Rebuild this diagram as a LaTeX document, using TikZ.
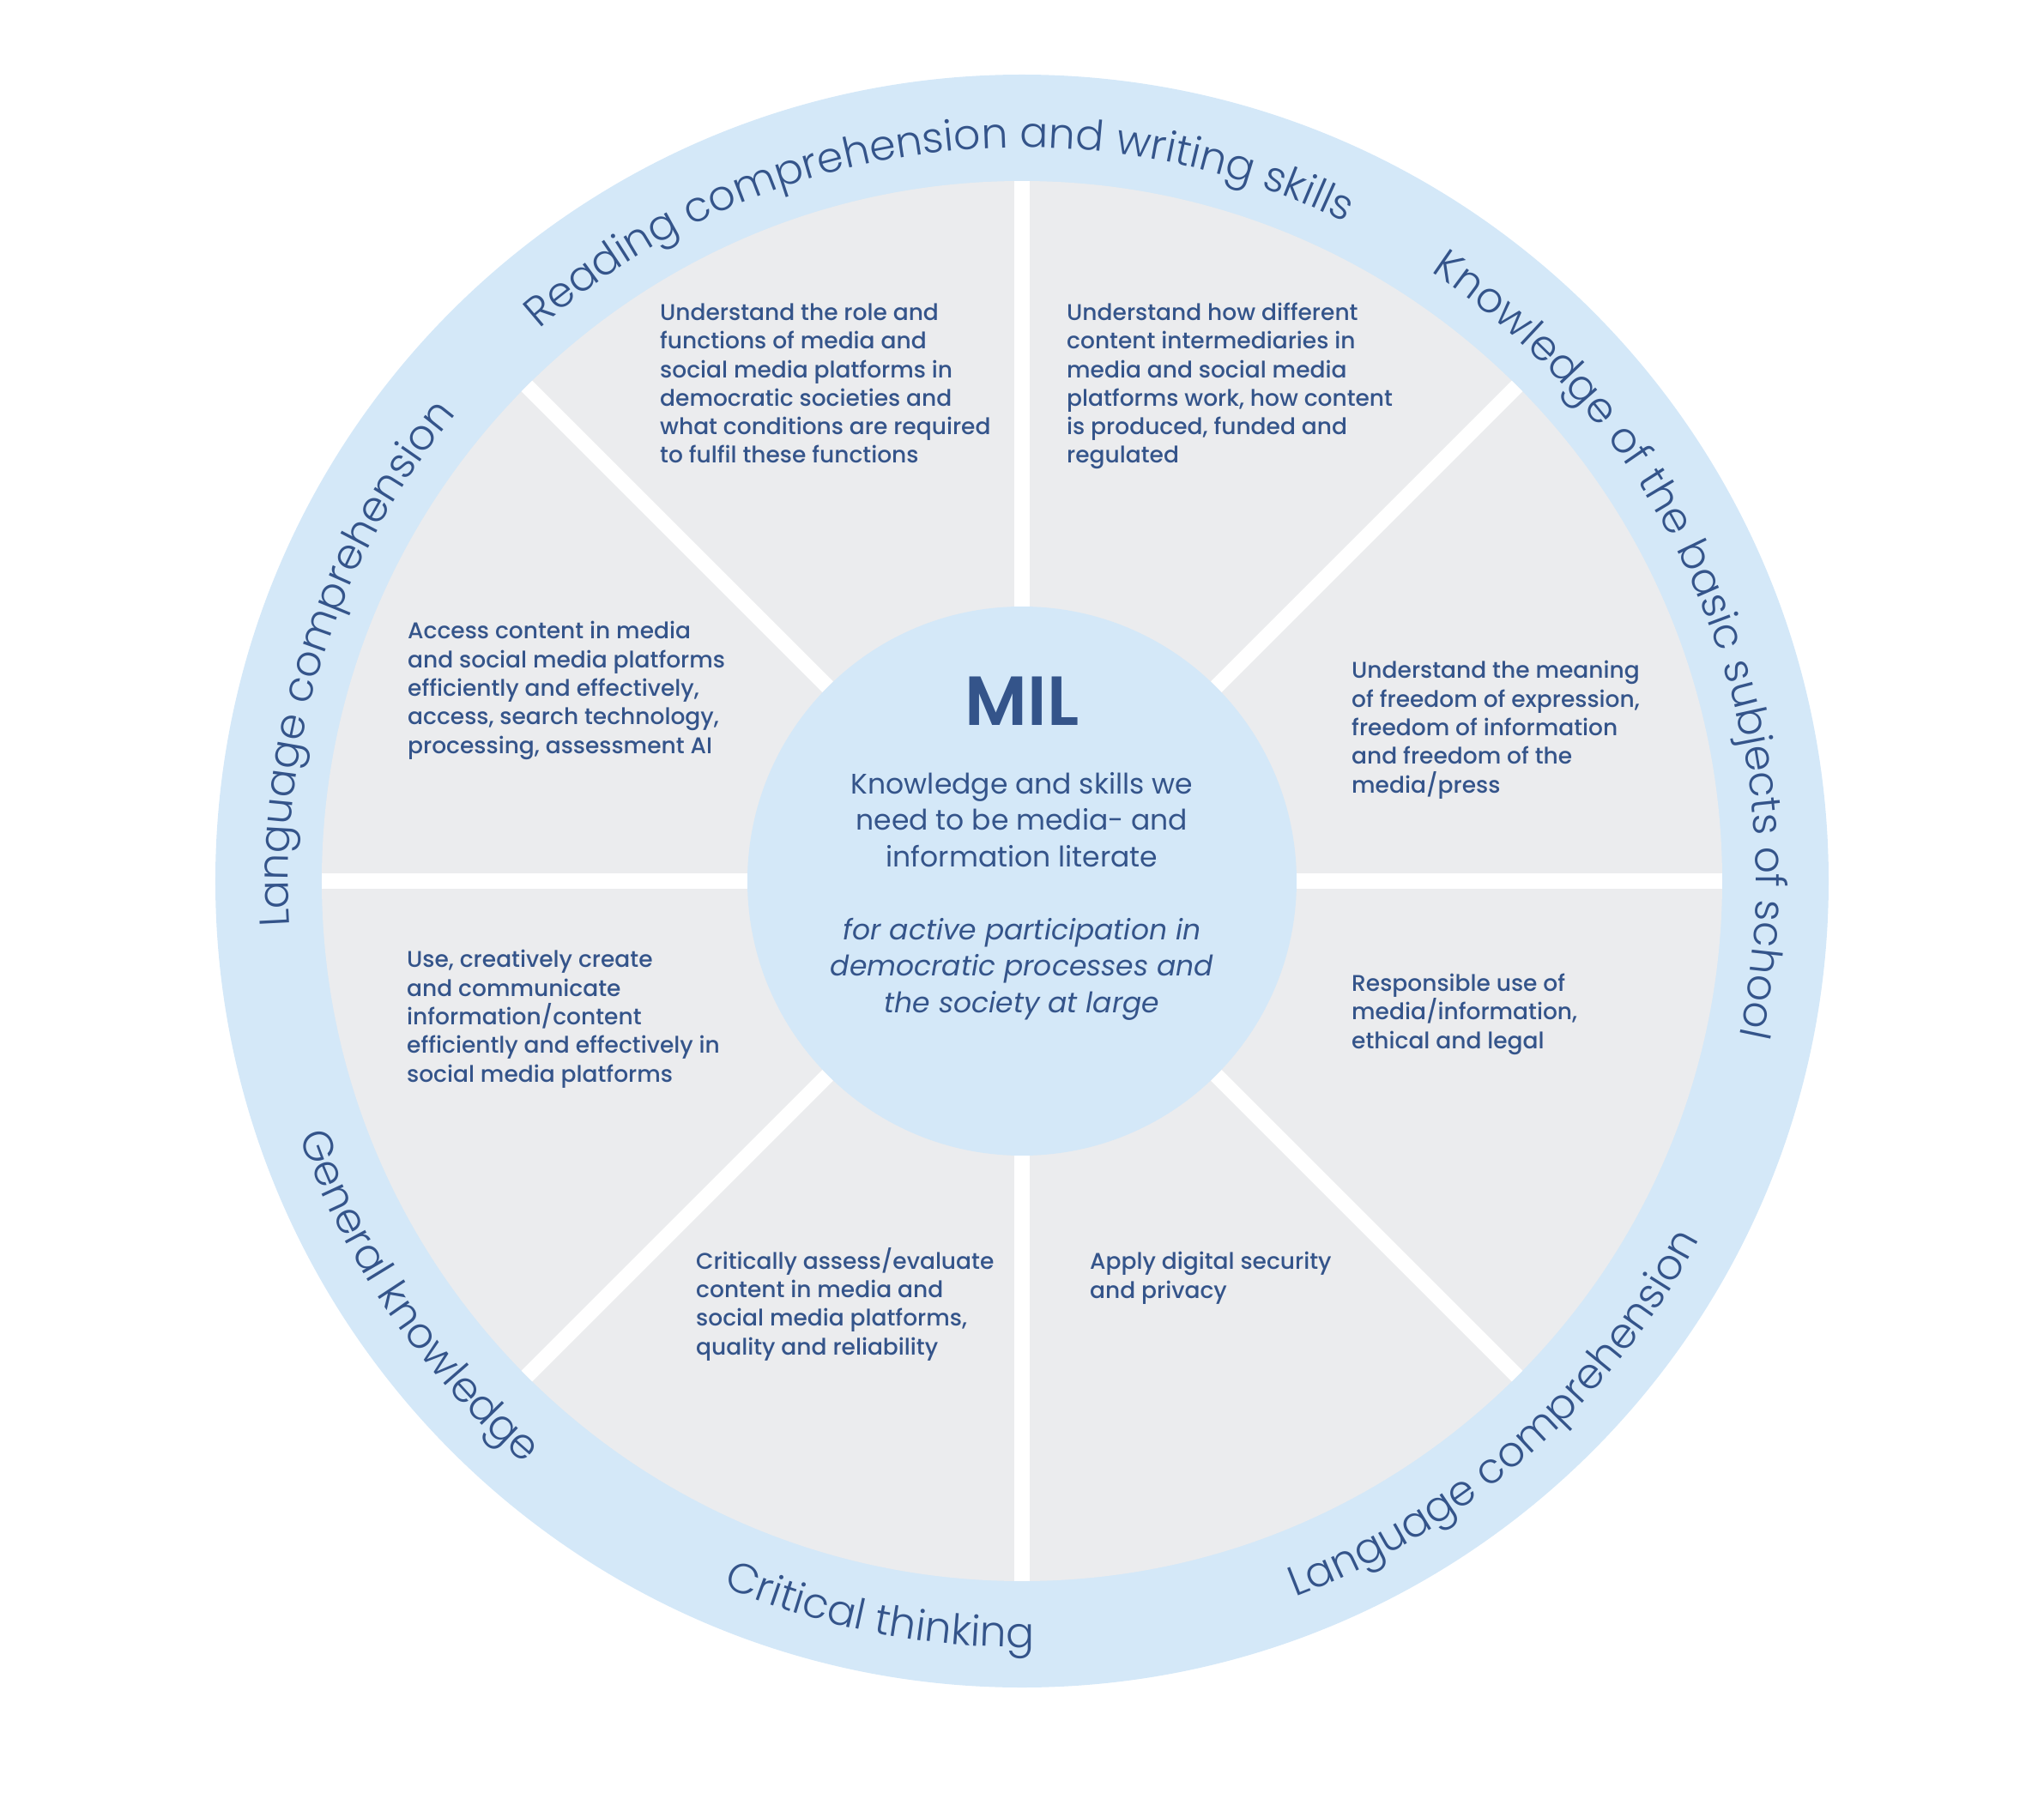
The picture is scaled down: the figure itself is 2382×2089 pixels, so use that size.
\documentclass[tikz,border=0pt]{standalone}
\usepackage{fontspec}
\setmainfont{Poppins}
\newfontfamily\ringfont{Poppins Light}
\newfontfamily\cellfont{Poppins Medium}
\newfontfamily\hubfont{Poppins SemiBold}
\usetikzlibrary{decorations.text}
\definecolor{ringblue}{HTML}{D4E8F8}
\definecolor{cellgray}{HTML}{EBECEE}
\definecolor{milblue}{HTML}{34548A}
\tikzset{
  hub/.style={circle,fill=ringblue,minimum size=640pt,inner sep=0pt},
  spoke/.style={white,line width=18pt},
  cell/.style={anchor=base west,align=left,inner sep=0pt,text=milblue,
    font=\cellfont\fontsize{26.5}{33.3}\selectfont},
  hubtext/.style={anchor=base,align=center,inner sep=0pt,text=milblue,
    font=\fontsize{33}{42.5}\selectfont},
  ringlabel/.style={decorate,decoration={text along path,text align=center,
    text color=milblue,text={|\ringfont\fontsize{49}{60}\selectfont|#1}}}
}

\begin{document}
\begin{tikzpicture}[x=1pt,y=1pt]
  \useasboundingbox (-1191,-1062) rectangle (1191,1027);
  % outer ring, grey wheel, hub and the eight spokes
  \fill[ringblue] (0,0) circle[radius=940];
  \fill[cellgray] (0,0) circle[radius=816];
  \node[hub] (mil) at (0,0) {};
  \foreach \a in {0,45,...,315}
    \draw[spoke] (mil.\a) -- (\a:816);

  % labels on the ring: upper ones read clockwise, lower ones anticlockwise
  \path[ringlabel={Reading comprehension and writing skills}]
    (187.5:855) arc[start angle=187.5,end angle=7.5,radius=855];
  \path[ringlabel={Knowledge of the basic subjects of school}]
    (112:855) arc[start angle=112,end angle=-68,radius=855];
  \path[ringlabel={Language comprehension}]
    (252:855) arc[start angle=252,end angle=72,radius=855];
  \path[ringlabel={General knowledge}]
    (124.5:893) arc[start angle=124.5,end angle=304.5,radius=893];
  \path[ringlabel={Critical thinking}]
    (169:893) arc[start angle=169,end angle=349,radius=893];
  \path[ringlabel={Language comprehension}]
    (221.5:893) arc[start angle=221.5,end angle=401.5,radius=893];

  % centre (base anchors sit on the last line)
  \node[hubtext,font=\hubfont\fontsize{81}{90}\selectfont] (title) at (0,182) {MIL};
  \node[hubtext] (aim) at (0,17) {Knowledge and skills we\\need to be media- and\\information literate};
  \node[hubtext,font=\fontsize{33}{42.5}\selectfont\itshape] (goal) at (0,-153)
    {for active participation in\\democratic processes and\\the society at large};

  % the eight sectors
  \node[cell] (role) at (-422,487) {Understand the role and\\functions of media and\\social media platforms in\\democratic societies and\\what conditions are required\\to fulfil these functions};
  \node[cell] (intermed) at (52,487) {Understand how different\\content intermediaries in\\media and social media\\platforms work, how content\\is produced, funded and\\regulated};
  \node[cell] (freedom) at (384,103) {Understand the meaning\\of freedom of expression,\\freedom of information\\and freedom of the\\media/press};
  \node[cell] (ethics) at (384,-195) {Responsible use of\\media/information,\\ethical and legal};
  \node[cell] (security) at (79,-486) {Apply digital security\\and privacy};
  \node[cell] (assess) at (-380,-552) {Critically assess/evaluate\\content in media and\\social media platforms,\\quality and reliability};
  \node[cell] (create) at (-717,-234) {Use, creatively create\\and communicate\\information/content\\efficiently and effectively in\\social media platforms};
  \node[cell] (access) at (-716,149) {Access content in media\\and social media platforms\\efficiently and effectively,\\access, search technology,\\processing, assessment AI};
\end{tikzpicture}
\end{document}
